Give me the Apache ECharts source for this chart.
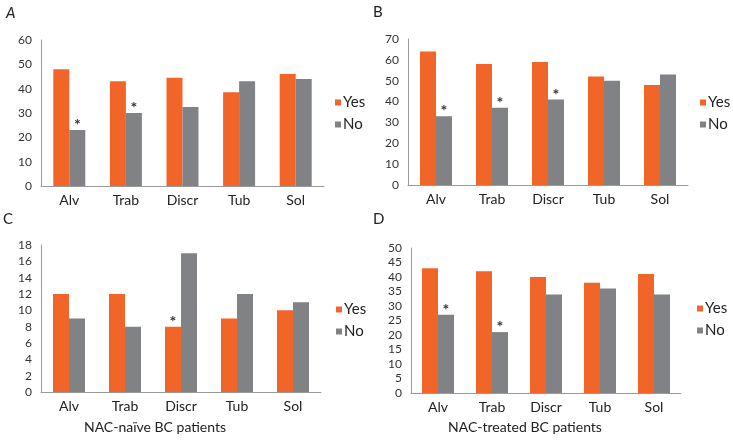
<!DOCTYPE html>
<html>
<head>
<meta charset="utf-8">
<script src="https://cdn.jsdelivr.net/npm/echarts@6/dist/echarts.min.js"></script>
<style>
  html, body { margin: 0; padding: 0; background: #fff; }
  #mychart { width: 733px; height: 447px; }
</style>
</head>
<body>
<div id="mychart"></div>
<script>
// categories and values
const categories = ['Alv', 'Trab', 'Discr', 'Tub', 'Sol']

const yesA = [48, 43, 44.5, 38.5, 46]
const noA = [23, 30, 32.5, 43, 44]
const yesB = [64, 58, 59, 52, 48]
const noB = [33, 37, 41, 50, 53]
const yesC = [12, 12, 8, 9, 10]
const noC = [9, 8, 17, 12, 11]
const yesD = [43, 42, 40, 38, 41]
const noD = [27, 21, 34, 36, 34]

// which bars carry an asterisk (1 = yes)
const starYesA = [0, 0, 0, 0, 0]
const starNoA = [1, 1, 0, 0, 0]
const starYesB = [0, 0, 0, 0, 0]
const starNoB = [1, 1, 1, 0, 0]
const starYesC = [0, 0, 1, 0, 0]
const starNoC = [0, 0, 0, 0, 0]
const starYesD = [0, 0, 0, 0, 0]
const starNoD = [1, 1, 0, 0, 0]

const yMax = [60, 70, 18, 50]
const yStep = [10, 10, 2, 5]

const orange = '#f26529'
const gray = '#808285'
const font = 'Lato, "Noto Sans", sans-serif'

function withStars(values, stars) {
    return values.map((v, i) => {
        if (!stars[i]) return v
        return {
            value: v,
            label: { show: true, formatter: '*', position: 'top', distance: -3,
                     fontSize: 16, fontWeight: 'bold', color: '#333', fontFamily: font }
        }
    })
}

let grids = [
    { left: 41, top: 40, width: 283, height: 146 },
    { left: 408, top: 39, width: 280, height: 146 },
    { left: 41, top: 245, width: 280, height: 147 },
    { left: 411, top: 248, width: 270, height: 145 }
]

let xAxes = [], yAxes = [], series = [], legends = []
let yes = [yesA, yesB, yesC, yesD]
let no = [noA, noB, noC, noD]
let sYes = [starYesA, starYesB, starYesC, starYesD]
let sNo = [starNoA, starNoB, starNoC, starNoD]
let legendPos = [[330, 90], [695, 90], [331, 297], [692, 296]]

for (let i = 0; i < 4; i++) {
    xAxes.push({
        type: 'category', gridIndex: i, data: categories,
        axisLine: { lineStyle: { color: '#9a9a9a', width: 1 } },
        axisTick: { show: false },
        axisLabel: { fontSize: 14, color: '#222', margin: 7, fontFamily: font }
    })
    yAxes.push({
        type: 'value', gridIndex: i, min: 0, max: yMax[i], interval: yStep[i],
        axisLine: { show: true, lineStyle: { color: '#9a9a9a', width: 1 } },
        axisTick: { show: false },
        splitLine: { show: false },
        axisLabel: { fontSize: 12, color: '#333', margin: 9, fontFamily: font }
    })
    series.push({
        name: 'Yes', type: 'bar', xAxisIndex: i, yAxisIndex: i,
        data: withStars(yes[i], sYes[i]),
        barWidth: 16, barGap: '0%',
        itemStyle: { color: orange }
    })
    series.push({
        name: 'No', type: 'bar', xAxisIndex: i, yAxisIndex: i,
        data: withStars(no[i], sNo[i]),
        barWidth: 16, barGap: '0%',
        itemStyle: { color: gray }
    })
    legends.push({
        data: ['Yes', 'No'], orient: 'vertical',
        left: legendPos[i][0], top: legendPos[i][1],
        itemWidth: 6, itemHeight: 6, itemGap: 7,
        icon: 'rect',
        textStyle: { fontSize: 15, color: '#222', fontFamily: font, padding: [0, 0, 0, -3] }
    })
}

function txt(x, y, s, opts) {
    return Object.assign({
        type: 'text', x: x, y: y,
        style: Object.assign({ text: s, fill: '#222', font: '14px ' + font }, opts || {})
    })
}

let myChart = echarts.init(document.getElementById('mychart'))
myChart.setOption({
    animation: false,
    backgroundColor: '#fff',
    grid: grids,
    xAxis: xAxes,
    yAxis: yAxes,
    series: series,
    legend: legends,
    graphic: [
        txt(6, 6, 'A', { font: 'italic 15px ' + font }),
        txt(373, 5, 'B', { font: '15px ' + font }),
        txt(3, 212, 'C', { font: '15px ' + font }),
        txt(373, 212, 'D', { font: '15px ' + font }),
        txt(155, 427, 'NAC-naïve BC patients', { textAlign: 'center', textVerticalAlign: 'middle' }),
        txt(525, 427, 'NAC-treated BC patients', { textAlign: 'center', textVerticalAlign: 'middle' })
    ]
})
</script>
</body>
</html>
